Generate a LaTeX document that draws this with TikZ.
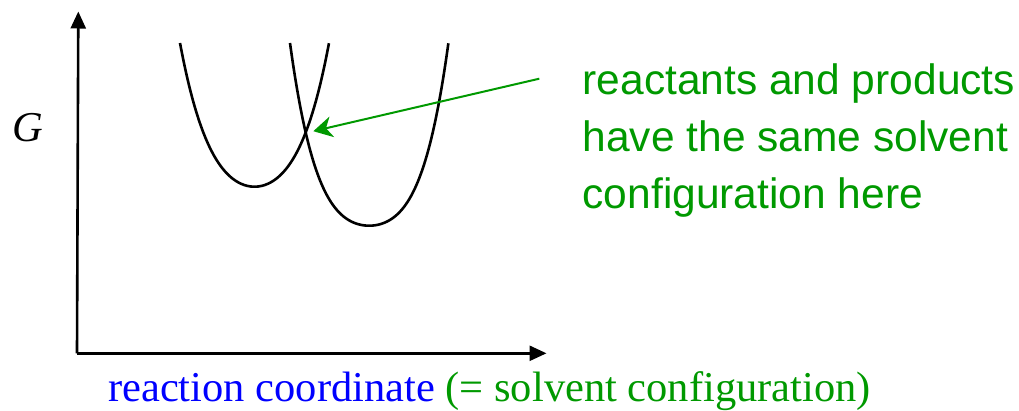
\documentclass[tikz,border=0pt]{standalone}
\usepackage{fontspec}
\setmainfont{Liberation Serif}
\newfontfamily\labelsans{Liberation Sans}
\usetikzlibrary{arrows.meta}
\definecolor{lblgreen}{RGB}{0,153,0}
\definecolor{lblblue}{RGB}{0,0,255}
\tikzset{
  axis/.style={line width=2.6pt, -{Triangle[length=17pt,width=15pt]}},
  curve/.style={line width=2.6pt, black},
  pointer/.style={line width=2pt, lblgreen, -{Stealth[length=19pt,width=21pt,inset=6pt]}},
  greentext/.style={anchor=base west, inner sep=0pt, text=lblgreen, font=\labelsans\fontsize{42.5}{57}\selectfont},
}
\begin{document}
\begin{tikzpicture}[x=1pt,y=-1pt]
\useasboundingbox (0,0) rectangle (1019,411);
% axes
\coordinate (origin) at (78.3,353.3);
\coordinate (ytip) at (78.3,11.5);
\coordinate (xtip) at (546.5,353.3);
\draw[axis] ([xshift=-1.3pt]origin) -- (ytip);
\draw[axis] ([xshift=-1.3pt]origin) -- (xtip);
% curves
\draw[curve] plot[domain=-1:1, samples=121, smooth] ({254.5+74.5*\x}, {186.7-143.7*(0.62*\x*\x+0.38*\x*\x*\x*\x)});
\draw[curve] plot[domain=-1:1, samples=121, smooth] ({369.2+79.2*\x}, {225.7-182.7*(0.42*\x*\x+0.58*\x*\x*\x*\x)});
% labels
\node[anchor=base west, inner sep=0pt, font=\fontsize{42.5}{50}\selectfont\itshape] (g) at (12.5,141.7) {G};
\node[anchor=base west, inner sep=0pt, font=\fontsize{42.5}{50}\selectfont] (xl) at (108,401.5) {\textcolor{lblblue}{reaction coordinate} \textcolor{lblgreen}{(= solvent configuration)}};
\node[greentext] (l1) at (582.5,94.3) {reactants and products};
\node[greentext] (l2) at (582.5,151.3) {have the same solvent};
\node[greentext] (l3) at (582.5,208.3) {configuration here};
% pointer
\coordinate (pstart) at (539.3,78.7);
\coordinate (cross) at (313.3,131.2);
\draw[pointer] (pstart) -- (cross);
\end{tikzpicture}
\end{document}
